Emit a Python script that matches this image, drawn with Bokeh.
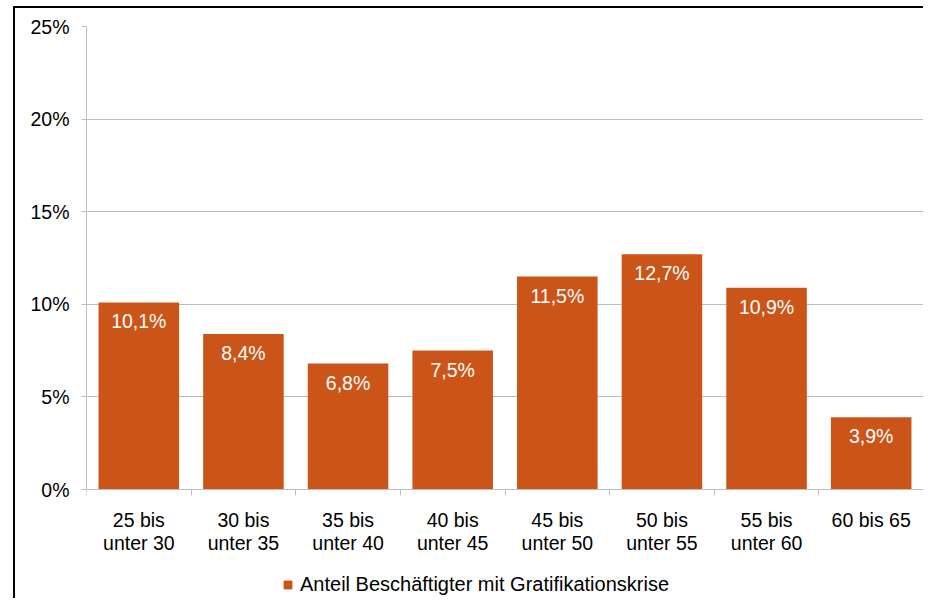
from bokeh.plotting import figure
from bokeh.models import (FixedTicker, PrintfTickFormatter, ColumnDataSource,
                          Legend, LegendItem, Range1d, InlineStyleSheet)
from bokeh.embed import file_html
from bokeh.resources import INLINE
from bokeh.core.properties import value

categories = ["25 bis\nunter 30", "30 bis\nunter 35", "35 bis\nunter 40", "40 bis\nunter 45",
              "45 bis\nunter 50", "50 bis\nunter 55", "55 bis\nunter 60", "60 bis 65"]
shares = [10.1, 8.4, 6.8, 7.5, 11.5, 12.7, 10.9, 3.9]
series_name = "Anteil Beschäftigter mit Gratifikationskrise"
y_ticks = [0, 5, 10, 15, 20, 25]

FONT = "Liberation Sans"
FS = "19.5px"
BAR = "#CB5518"
GRID = "#BEBEBE"

# layout (pixels)
W, H = 923, 598
LEFT, TOP, BOTTOM = 86, 26, 2
AXIS_PX = 463          # pixels from 0% to 25%
y_max = max(y_ticks)
frame_h = H - TOP - BOTTOM
y_min = y_max - frame_h * y_max / AXIS_PX   # room below the baseline for labels/legend

xs = list(range(len(categories)))
labels = [f"{v:.1f}".replace(".", ",") + "%" for v in shares]
src = ColumnDataSource(dict(x=xs, top=shares, lab=labels, base=[0] * len(xs), cat=categories))

border_css = InlineStyleSheet(css="""
:host::after {
  content: "";
  position: absolute;
  left: 13px;
  top: 6px;
  right: 0px;
  bottom: 0px;
  border-left: 2px solid #000;
  border-top: 2px solid #000;
  pointer-events: none;
}
""")

p = figure(width=W, height=H, output_backend="svg", toolbar_location=None,
           x_range=Range1d(-0.5, len(categories) - 0.5), y_range=Range1d(y_min, y_max),
           min_border_left=LEFT, min_border_top=TOP, min_border_right=0, min_border_bottom=BOTTOM,
           stylesheets=[border_css])
p.outline_line_color = None
p.background_fill_color = "white"
p.border_fill_color = "white"

r = p.vbar(x="x", top="top", bottom="base", width=0.77, source=src, color=BAR, line_color=None)

# value labels inside bars
p.text(x="x", y="top", text="lab", source=src, text_color="white",
       text_font=value(FONT), text_font_size=FS, text_align="center",
       text_baseline="middle", y_offset=19)

# category labels below the baseline
p.text(x="x", y="base", text="cat", source=src, text_color="black",
       text_font=value(FONT), text_font_size=FS, text_align="center",
       text_baseline="top", y_offset=19, text_line_height=1.08)

# y axis
p.yaxis.ticker = FixedTicker(ticks=y_ticks)
p.yaxis.formatter = PrintfTickFormatter(format="%d%%")
p.yaxis.bounds = (0, y_max)
p.yaxis.axis_line_color = GRID
p.yaxis.major_tick_line_color = GRID
p.yaxis.major_tick_out = 5
p.yaxis.major_tick_in = 0
p.yaxis.minor_tick_line_color = None
p.yaxis.major_label_text_font = FONT
p.yaxis.major_label_text_font_size = FS
p.yaxis.major_label_text_color = "black"
p.yaxis.major_label_standoff = 12

# x axis at the 0 baseline, ticks at category boundaries
bounds = [i - 0.5 for i in range(len(categories) + 1)]
p.xaxis.fixed_location = 0
p.xaxis.ticker = FixedTicker(ticks=[], minor_ticks=bounds)
p.xaxis.axis_line_color = GRID
p.xaxis.major_tick_line_color = None
p.xaxis.minor_tick_line_color = GRID
p.xaxis.minor_tick_out = 6
p.xaxis.minor_tick_in = 0
p.xaxis.major_label_text_font_size = "0px"
p.xaxis.major_label_standoff = 0

p.xgrid.grid_line_color = None
p.ygrid.ticker = FixedTicker(ticks=y_ticks)
p.ygrid.grid_line_color = GRID

legend = Legend(items=[LegendItem(label=series_name, renderers=[r])],
                location=(196, 0), orientation="horizontal",
                label_text_font=FONT, label_text_font_size="20px", label_text_color="black",
                glyph_width=11, glyph_height=11, label_standoff=7,
                padding=0, margin=0, border_line_color=None,
                background_fill_alpha=0)
p.add_layout(legend, "center")

open("out.html", "w").write(file_html(p, INLINE))
